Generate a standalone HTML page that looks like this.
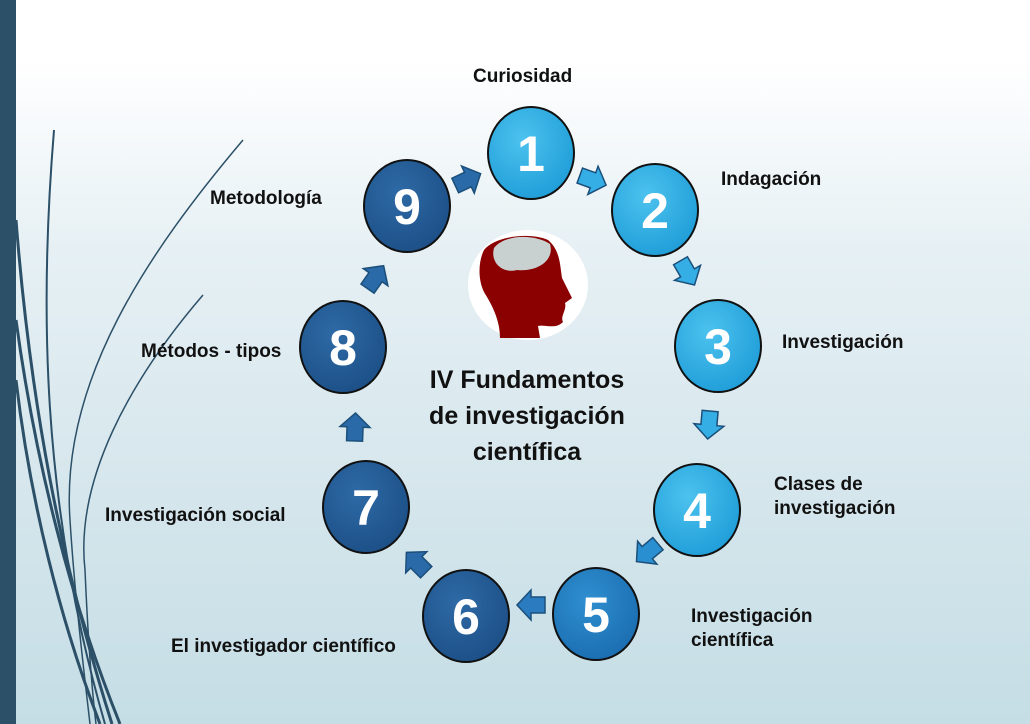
<!DOCTYPE html>
<html><head><meta charset="utf-8"><style>
body{margin:0;width:1030px;height:724px;overflow:hidden;background:linear-gradient(#fff 0px,#fff 60px,#e6f0f4 250px,#c5dde5 724px);font-family:"Liberation Sans",sans-serif;}
.lbl{position:absolute;font-weight:bold;font-size:19px;color:#111;line-height:24px;white-space:nowrap}
</style></head><body>
<svg width="1030" height="724" style="position:absolute;left:0;top:0">
<defs>
<radialGradient id="lb" cx="40%" cy="35%" r="70%"><stop offset="0" stop-color="#4cc2ee"/><stop offset="1" stop-color="#1f9dd8"/></radialGradient>
<radialGradient id="mb" cx="40%" cy="35%" r="70%"><stop offset="0" stop-color="#2f8fd0"/><stop offset="1" stop-color="#1a6db0"/></radialGradient>
<radialGradient id="db" cx="40%" cy="35%" r="70%"><stop offset="0" stop-color="#2e6aa6"/><stop offset="1" stop-color="#1c4f86"/></radialGradient>
<g id="ar"><polygon points="-13,-8 1,-8 1,-15 15,0 1,15 1,8 -13,8" stroke="#1b4f7a" stroke-width="1.5"/></g>
</defs>
<rect x="0" y="0" width="16" height="724" fill="#2c5068"/>
<g fill="none" stroke="#2c5068">
<path d="M243,140 C150,250 60,380 70,520 C75,600 85,680 90,724" stroke-width="1.5"/>
<path d="M203,295 C130,380 75,480 85,570 C88,640 92,690 96,724" stroke-width="1.5"/>
<path d="M54,130 C40,300 40,500 105,724" stroke-width="2"/>
<path d="M16,220 C30,400 60,560 112,724" stroke-width="3"/>
<path d="M16,320 C35,460 70,600 120,724" stroke-width="3"/>
<path d="M16,380 C30,500 60,620 100,724" stroke-width="3"/>
</g>
<g stroke="#111" stroke-width="2">
<ellipse cx="531" cy="153" rx="43" ry="46" fill="url(#lb)"/>
<ellipse cx="655" cy="210" rx="43" ry="46" fill="url(#lb)"/>
<ellipse cx="718" cy="346" rx="43" ry="46" fill="url(#lb)"/>
<ellipse cx="697" cy="510" rx="43" ry="46" fill="url(#lb)"/>
<ellipse cx="596" cy="614" rx="43" ry="46" fill="url(#mb)"/>
<ellipse cx="466" cy="616" rx="43" ry="46" fill="url(#db)"/>
<ellipse cx="366" cy="507" rx="43" ry="46" fill="url(#db)"/>
<ellipse cx="343" cy="347" rx="43" ry="46" fill="url(#db)"/>
<ellipse cx="407" cy="206" rx="43" ry="46" fill="url(#db)"/>
</g>
<g font-family="Liberation Sans Narrow, Liberation Sans" font-weight="bold" font-size="50" fill="#fff" text-anchor="middle">
<text x="531" y="171">1</text><text x="655" y="228">2</text><text x="718" y="364">3</text>
<text x="697" y="528">4</text><text x="596" y="632">5</text><text x="466" y="634">6</text>
<text x="366" y="525">7</text><text x="343" y="365">8</text><text x="407" y="224">9</text>
</g>
<use href="#ar" transform="translate(592,180) rotate(20)" fill="#35aee5"/>
<use href="#ar" transform="translate(687,272) rotate(60)" fill="#35aee5"/>
<use href="#ar" transform="translate(709,424) rotate(95)" fill="#35aee5"/>
<use href="#ar" transform="translate(648,552) rotate(140)" fill="#2a8fd0"/>
<use href="#ar" transform="translate(532,605) rotate(180)" fill="#2a7bc0"/>
<use href="#ar" transform="translate(417,563) rotate(225)" fill="#2a6aa8"/>
<use href="#ar" transform="translate(355,428) rotate(272)" fill="#2a6aa8"/>
<use href="#ar" transform="translate(375,278) rotate(305)" fill="#2a6aa8"/>
<use href="#ar" transform="translate(467,180) rotate(335)" fill="#2a6aa8"/>
<ellipse cx="528" cy="285" rx="60" ry="55" fill="#fff"/>
<path d="M484,250 C495,236 530,232 548,240 C560,250 560,265 562,278 L572,298 L565,303 C567,310 560,316 563,322 C555,330 545,324 538,326 L540,338 L500,338 C500,320 492,305 484,292 C478,280 478,262 484,250Z" fill="#8b0000"/>
<path d="M494,248 C505,234 535,234 550,244 C555,262 535,272 517,270 C502,274 490,262 494,248Z" fill="#c8d0d0"/>
<text x="527" y="388" font-family="Liberation Sans" font-weight="bold" font-size="25" fill="#111" text-anchor="middle">IV Fundamentos</text>
<text x="527" y="424" font-family="Liberation Sans" font-weight="bold" font-size="25" fill="#111" text-anchor="middle">de investigación</text>
<text x="527" y="460" font-family="Liberation Sans" font-weight="bold" font-size="25" fill="#111" text-anchor="middle">científica</text>
</svg>
<div class="lbl" style="left:473px;top:65px">Curiosidad</div>
<div class="lbl" style="left:721px;top:168px">Indagación</div>
<div class="lbl" style="left:782px;top:331px">Investigación</div>
<div class="lbl" style="left:774px;top:473px">Clases de<br>investigación</div>
<div class="lbl" style="left:691px;top:605px">Investigación<br>científica</div>
<div class="lbl" style="left:171px;top:635px">El investigador científico</div>
<div class="lbl" style="left:105px;top:504px">Investigación social</div>
<div class="lbl" style="left:141px;top:340px">Métodos - tipos</div>
<div class="lbl" style="left:210px;top:187px">Metodología</div>
</body></html>
